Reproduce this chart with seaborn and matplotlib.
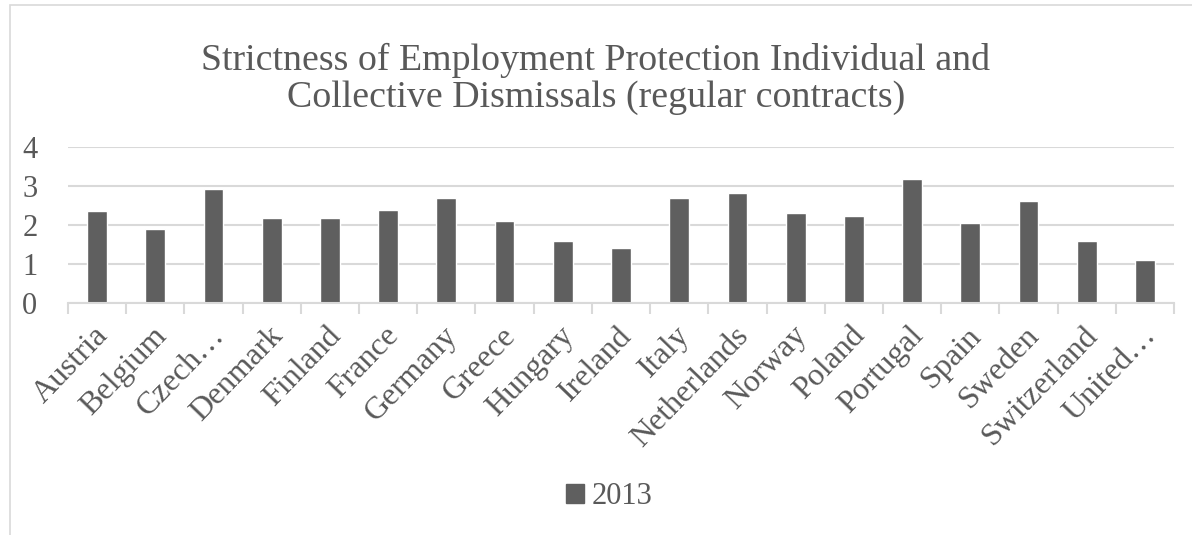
import matplotlib
matplotlib.use("Agg")
from matplotlib import pyplot as plt
from matplotlib.patches import Rectangle
from matplotlib.transforms import ScaledTranslation
import seaborn as sns
import pandas as pd

countries = [
    "Austria", "Belgium", "Czech…", "Denmark", "Finland", "France", "Germany",
    "Greece", "Hungary", "Ireland", "Italy", "Netherlands", "Norway", "Poland",
    "Portugal", "Spain", "Sweden", "Switzerland", "United…",
]
values_2013 = [
    2.37, 1.90, 2.93, 2.19, 2.17, 2.38, 2.68, 2.11, 1.59, 1.40,
    2.68, 2.82, 2.32, 2.22, 3.18, 2.04, 2.61, 1.59, 1.09,
]
y_ticks = [0, 1, 2, 3, 4]

BAR_COLOR = "#5f5f5f"
GRID_COLOR = "#d9d9d9"
TEXT_COLOR = "#595959"

sns.set_theme(style="white")
plt.rcParams["font.family"] = ["Liberation Serif", "DejaVu Serif"]

df = pd.DataFrame({"Country": countries, "Score": values_2013, "Year": "2013"})

fig = plt.figure(figsize=(11.92, 5.35), dpi=100)
ax = fig.add_axes([68 / 1192, 1 - 303 / 535, (1174 - 68) / 1192, (303 - 147) / 535])

sns.barplot(
    data=df, x="Country", y="Score", hue="Year", palette=[BAR_COLOR],
    width=0.34, ax=ax, legend=True, saturation=1,
)

ax.set_ylim(0, 4)
ax.set_xlim(-0.5, len(countries) - 0.5)
ax.set_yticks(y_ticks)
ax.set_yticklabels([str(t) for t in y_ticks], fontsize=22, color=TEXT_COLOR)
ax.set_xlabel("")
ax.set_ylabel("")
ax.yaxis.grid(True, color=GRID_COLOR, linewidth=1.5)
ax.set_axisbelow(True)
for side in ["top", "right", "left"]:
    ax.spines[side].set_visible(False)
ax.spines["bottom"].set_color(GRID_COLOR)
ax.spines["bottom"].set_linewidth(1.5)
ax.tick_params(axis="y", length=0, pad=22)

# category boundary tick marks
ax.set_xticks([i - 0.5 for i in range(len(countries) + 1)], minor=True)
ax.tick_params(axis="x", which="minor", length=8, width=1.5, color=GRID_COLOR, bottom=True)
ax.tick_params(axis="x", which="major", length=0, pad=13)
ax.set_xticks(range(len(countries)))
ax.set_xticklabels(countries, rotation=46, ha="right", rotation_mode="anchor",
                   fontsize=23, color=TEXT_COLOR)
shift = ScaledTranslation(-4 / 100, 0, fig.dpi_scale_trans)
for lbl in ax.get_xticklabels():
    lbl.set_transform(lbl.get_transform() + shift)

ax.legend_.remove()
fig.legend(
    handles=[Rectangle((0, 0), 1, 1, color=BAR_COLOR)], labels=["2013"],
    loc="center", bbox_to_anchor=(609 / 1192, 1 - 497 / 535), frameon=False,
    fontsize=22, handlelength=0.6, handleheight=0.6, handletextpad=0.25,
    labelcolor=TEXT_COLOR,
)

fig.text(0.5, 1 - 79 / 535,
         "Strictness of Employment Protection Individual and\nCollective Dismissals (regular contracts)",
         ha="center", va="center", fontsize=27.3, color=TEXT_COLOR, linespacing=1.12)

# chart area border
fig.patches.append(Rectangle((10 / 1192, -0.01), 1.0, 1 - 5 / 535 + 0.01,
                             transform=fig.transFigure, fill=False,
                             edgecolor=GRID_COLOR, linewidth=1.2))

fig.savefig("out.png", dpi=100)
